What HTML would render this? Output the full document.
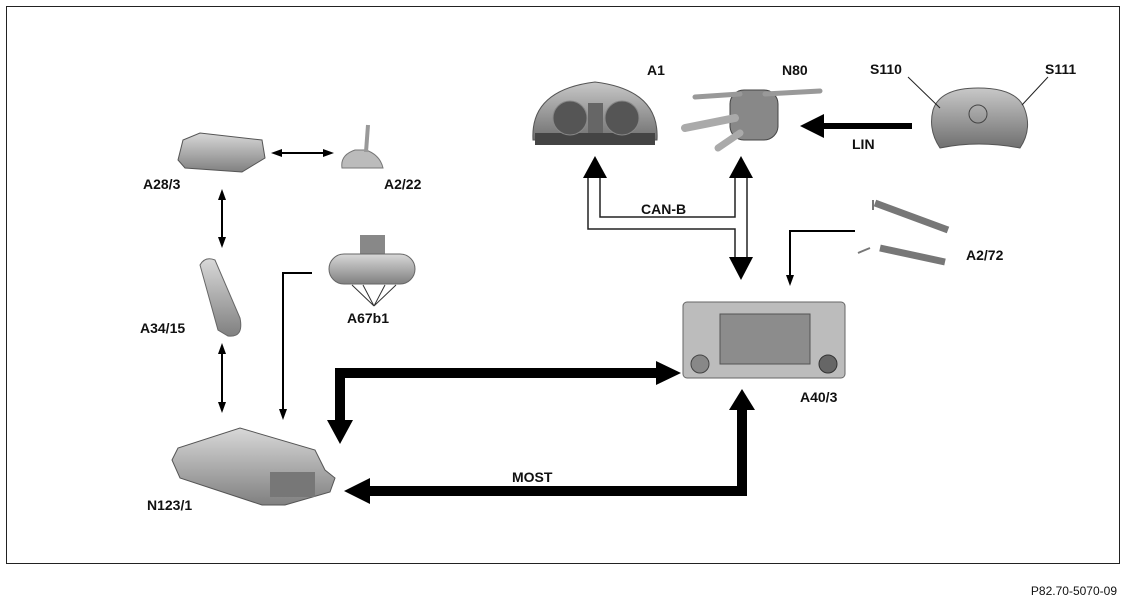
<!DOCTYPE html>
<html><head><meta charset="utf-8"><style>
html,body{margin:0;padding:0;background:#fff;}
svg{display:block;}
text{font-family:"Liberation Sans",Arial,sans-serif;font-weight:bold;fill:#111;}
</style></head><body>
<svg width="1127" height="600" viewBox="0 0 1127 600" xmlns="http://www.w3.org/2000/svg">
<defs>
<linearGradient id="g1" x1="0" y1="0" x2="0" y2="1"><stop offset="0" stop-color="#d8d8d8"/><stop offset="1" stop-color="#808080"/></linearGradient>
<linearGradient id="g2" x1="0" y1="0" x2="0" y2="1"><stop offset="0" stop-color="#c8c8c8"/><stop offset="1" stop-color="#707070"/></linearGradient>
</defs>
<rect x="6.5" y="6.5" width="1113" height="557" fill="none" stroke="#222" stroke-width="1"/>
<text x="1117" y="595" font-size="12" text-anchor="end" style="font-weight:normal">P82.70-5070-09</text>

<!-- A1 cluster -->
<path d="M533,140 Q530,90 595,82 Q660,90 657,140 Z" fill="url(#g2)" stroke="#555"/>
<rect x="535" y="133" width="120" height="12" fill="#444"/>
<circle cx="570" cy="118" r="17" fill="#555" stroke="#888"/>
<circle cx="622" cy="118" r="17" fill="#555" stroke="#888"/>
<rect x="588" y="103" width="15" height="30" fill="#666"/>
<text x="647" y="75" font-size="14">A1</text>

<!-- N80 -->
<rect x="730" y="90" width="48" height="50" rx="14" fill="#888" stroke="#444"/>
<path d="M695,97 L740,94 M765,94 L820,91" stroke="#999" stroke-width="5" stroke-linecap="round"/>
<path d="M685,128 L735,118" stroke="#aaa" stroke-width="8" stroke-linecap="round"/>
<path d="M718,148 L740,133" stroke="#aaa" stroke-width="7" stroke-linecap="round"/>
<text x="782" y="75" font-size="14">N80</text>

<!-- airbag -->
<path d="M933,110 Q940,88 978,88 Q1018,88 1025,110 Q1032,130 1020,148 Q978,140 940,148 Q928,130 933,110 Z" fill="url(#g2)" stroke="#555"/>
<circle cx="978" cy="114" r="9" fill="none" stroke="#444"/>
<line x1="908" y1="77" x2="940" y2="108" stroke="#222"/>
<line x1="1048" y1="77" x2="1022" y2="105" stroke="#222"/>
<text x="870" y="74" font-size="14">S110</text>
<text x="1045" y="74" font-size="14">S111</text>

<!-- LIN -->
<line x1="912" y1="126" x2="820" y2="126" stroke="#000" stroke-width="6"/>
<polygon points="800,126 824,114 824,138" fill="#000"/>
<text x="852" y="149" font-size="14">LIN</text>

<!-- CAN-B double lines -->
<g fill="none" stroke="#222" stroke-width="1.5">
<polyline points="588,176 588,229 735,229 735,258"/>
<polyline points="600,176 600,217 735,217 735,176"/>
<line x1="747" y1="176" x2="747" y2="258"/>
</g>
<polygon points="595,156 583,178 607,178" fill="#000"/>
<polygon points="741,156 729,178 753,178" fill="#000"/>
<polygon points="741,280 729,257 753,257" fill="#000"/>
<text x="641" y="214" font-size="14">CAN-B</text>

<!-- A2/72 -->
<path d="M875,203 L948,230 M880,248 L945,262" stroke="#777" stroke-width="7"/>
<path d="M873,200 L873,210 M870,248 Q865,250 858,253" stroke="#777" stroke-width="2" fill="none"/>
<polyline points="855,231 790,231 790,280" fill="none" stroke="#000" stroke-width="2"/>
<polygon points="790,286 786,275 794,275" fill="#000"/>
<text x="966" y="260" font-size="14">A2/72</text>

<!-- A40/3 -->
<rect x="683" y="302" width="162" height="76" rx="4" fill="#bcbcbc" stroke="#666"/>
<rect x="720" y="314" width="90" height="50" fill="#8c8c8c" stroke="#555"/>
<circle cx="700" cy="364" r="9" fill="#888" stroke="#444"/>
<circle cx="828" cy="364" r="9" fill="#666" stroke="#333"/>
<text x="800" y="402" font-size="14">A40/3</text>

<!-- MOST -->
<polyline points="742,408 742,491 368,491" fill="none" stroke="#000" stroke-width="10"/>
<polygon points="742,389 729,410 755,410" fill="#000"/>
<polygon points="344,491 370,478 370,504" fill="#000"/>
<text x="512" y="482" font-size="14">MOST</text>

<!-- top thick -->
<polyline points="658,373 340,373 340,422" fill="none" stroke="#000" stroke-width="10"/>
<polygon points="681,373 656,361 656,385" fill="#000"/>
<polygon points="340,444 327,420 353,420" fill="#000"/>

<!-- A28/3 -->
<path d="M178,160 L183,140 L200,133 L262,140 L265,158 L242,172 L185,168 Z" fill="url(#g1)" stroke="#555"/>
<text x="143" y="189" font-size="14">A28/3</text>
<!-- A2/22 -->
<path d="M342,168 Q340,155 355,150 L366,150 Q380,155 383,168 Z" fill="#bbb" stroke="#777"/>
<line x1="366" y1="152" x2="368" y2="125" stroke="#999" stroke-width="4"/>
<text x="384" y="189" font-size="14">A2/22</text>
<line x1="278" y1="153" x2="328" y2="153" stroke="#000" stroke-width="2"/>
<polygon points="271,153 282,149 282,157" fill="#000"/><polygon points="334,153 323,149 323,157" fill="#000"/>

<!-- vertical arrows -->
<line x1="222" y1="196" x2="222" y2="242" stroke="#000" stroke-width="2"/>
<polygon points="222,189 218,200 226,200" fill="#000"/><polygon points="222,248 218,237 226,237" fill="#000"/>
<line x1="222" y1="350" x2="222" y2="407" stroke="#000" stroke-width="2"/>
<polygon points="222,343 218,354 226,354" fill="#000"/><polygon points="222,413 218,402 226,402" fill="#000"/>

<!-- A34/15 -->
<path d="M200,265 Q205,256 215,260 L240,318 Q244,338 228,336 L218,330 Z" fill="url(#g1)" stroke="#666"/>
<text x="140" y="333" font-size="14">A34/15</text>

<!-- A67b1 -->
<rect x="360" y="235" width="25" height="22" fill="#888"/>
<rect x="329" y="254" width="86" height="30" rx="15" fill="url(#g1)" stroke="#666"/>
<path d="M352,285 L374,306 L363,285 M374,306 L385,285 M374,306 L396,285" stroke="#333" fill="none"/>
<text x="347" y="323" font-size="14">A67b1</text>
<polyline points="312,273 283,273 283,414" fill="none" stroke="#000" stroke-width="2"/>
<polygon points="283,420 279,409 287,409" fill="#000"/>

<!-- N123/1 -->
<path d="M172,460 L178,448 L240,428 L315,450 L325,470 L335,478 L330,492 L285,505 L262,505 L180,478 Z" fill="url(#g1)" stroke="#555"/>
<rect x="270" y="472" width="45" height="25" fill="#777"/>
<text x="147" y="510" font-size="14">N123/1</text>
</svg>
</body></html>
